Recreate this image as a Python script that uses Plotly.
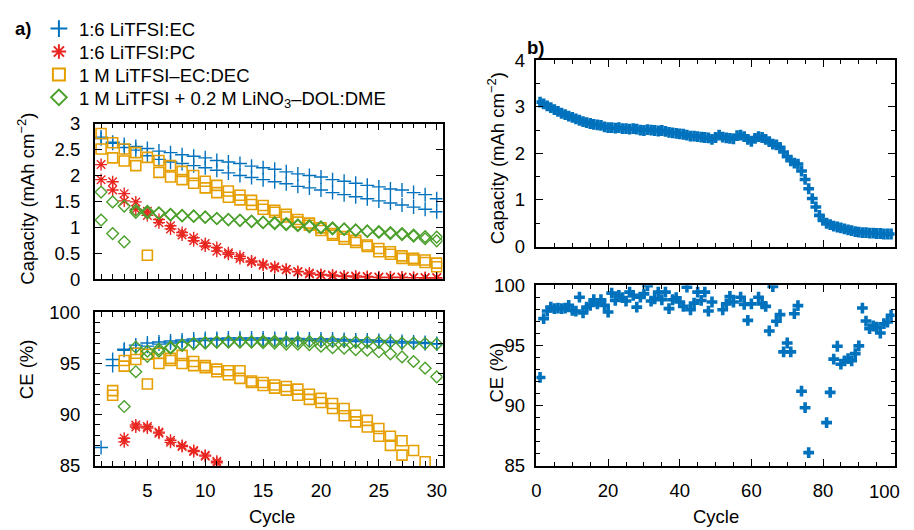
import plotly.graph_objects as go

# Page geometry measured from the rendered page: the figure is drawn with a
# small offset and the page is scaled to the 914x530 picture.
VIEW_W, VIEW_H = 920, 550
OFF_X, OFF_Y = 4, 8
OUT_W, OUT_H = 914, 530
W, H = 904, 534
SX, SY = OUT_W / VIEW_W, OUT_H / VIEW_H

# ---------------- data: panel a ----------------
cycles_a = list(range(1, 31))
series_names = ["1:6 LiTFSI:EC", "1:6 LiTFSI:PC", "1 M LiTFSI\u2013EC:DEC",
                "1 M LiTFSI + 0.2 M LiNO<sub>3</sub>\u2013DOL:DME"]

ec_cap_1 = [2.74, 2.64, 2.60, 2.56, 2.52, 2.47, 2.44, 2.40, 2.37, 2.34, 2.29, 2.26, 2.23, 2.18, 2.15,
            2.12, 2.07, 2.03, 2.00, 1.97, 1.92, 1.89, 1.85, 1.81, 1.78, 1.74, 1.72, 1.67, 1.63, 1.55]
ec_cap_2 = [2.71, 2.62, 2.54, 2.49, 2.38, 2.31, 2.26, 2.23, 2.19, 2.15, 2.10, 2.05, 2.00, 1.96, 1.92,
            1.88, 1.84, 1.79, 1.76, 1.72, 1.67, 1.63, 1.59, 1.55, 1.51, 1.47, 1.43, 1.39, 1.35, 1.30]
pc_cap_1 = [2.21, 1.88, 1.65, 1.49, 1.31, 1.15, 1.03, 0.90, 0.80, 0.69, 0.61, 0.51, 0.44, 0.35, 0.29,
            0.24, 0.19, 0.15, 0.12, 0.09, 0.08, 0.06, 0.06, 0.05, 0.04, 0.04, 0.04, 0.03, 0.03, 0.03]
pc_cap_2 = [1.92, 1.72, 1.51, 1.35, 1.23, 1.09, 0.97, 0.85, 0.74, 0.64, 0.54, 0.48, 0.40, 0.33, 0.27,
            0.22, 0.18, 0.14, 0.10, 0.08, 0.06, 0.05, 0.04, 0.04, 0.03, 0.03, 0.03, 0.03, 0.02, 0.02]
dec_cap_1 = [2.81, 2.63, 2.51, 2.44, 2.35, 2.29, 2.19, 2.08, 2.00, 1.89, 1.81, 1.70, 1.62, 1.52, 1.42,
             1.33, 1.25, 1.15, 1.08, 0.99, 0.88, 0.82, 0.75, 0.66, 0.59, 0.53, 0.45, 0.40, 0.37, 0.31]
dec_cap_2 = [2.51, 2.34, 2.28, 2.19, 0.46, 2.06, 1.97, 1.92, 1.85, 1.76, 1.67, 1.58, 1.53, 1.44, 1.35,
             1.29, 1.20, 1.10, 1.04, 0.94, 0.85, 0.77, 0.71, 0.63, 0.53, 0.48, 0.40, 0.37, 0.32, 0.24]
dol_cap_1 = [1.68, 1.49, 1.41, 1.33, 1.31, 1.28, 1.25, 1.23, 1.22, 1.20, 1.17, 1.15, 1.14, 1.12, 1.10,
             1.09, 1.07, 1.05, 1.03, 1.01, 0.99, 0.97, 0.95, 0.93, 0.92, 0.90, 0.88, 0.85, 0.82, 0.81]
dol_cap_2 = [1.14, 0.88, 0.72, 1.29, 1.28, 1.27, 1.24, 1.22, 1.21, 1.19, 1.17, 1.15, 1.13, 1.11, 1.09,
             1.07, 1.05, 1.03, 1.01, 0.99, 0.97, 0.96, 0.94, 0.92, 0.90, 0.88, 0.86, 0.83, 0.78, 0.74]

ec_ce_1 = [86.8, 95.4, 96.4, 96.8, 97.0, 97.1, 97.2, 97.3, 97.4, 97.45, 97.45, 97.5, 97.5, 97.5, 97.5,
           97.45, 97.45, 97.45, 97.4, 97.4, 97.4, 97.35, 97.3, 97.3, 97.25, 97.2, 97.15, 97.1, 97.05, 96.95]
ec_ce_2 = [None, 94.8, 96.3, 96.5, 96.7, 96.9, 97.0, 97.1, 97.2, 97.25, 97.3, 97.3, 97.3, 97.3, 97.3,
           97.3, 97.3, 97.25, 97.25, 97.2, 97.2, 97.2, 97.15, 97.1, 97.1, 97.05, 97.0, 97.0, 96.95, 96.9]
pc_ce_1 = [None, None, 87.7, 89.0, 88.85, 88.3, 87.5, 87.0, 86.5, 86.05, 85.45, None, None, None, None,
           None, None, None, None, None, None, None, None, None, None, None, None, None, None, None]
pc_ce_2 = [None, None, 87.35, 88.8, 88.7, 88.2, 87.3, 86.9, 86.4, 85.95, 85.3, None, None, None, None,
           None, None, None, None, None, None, None, None, None, None, None, None, None, None, None]
dec_ce_1 = [None, 92.35, 95.3, 96.0, 95.9, 96.0, 95.5, 95.8, 95.2, 94.8, 94.45, 94.3, 94.3, 93.3, 93.15,
            92.9, 92.75, 92.5, 92.0, 91.6, 91.1, 90.6, 89.95, 89.45, 88.65, 87.9, 87.45, 86.5, 85.4, None]
dec_ce_2 = [None, 91.9, 94.75, 95.4, 93.0, 95.0, 95.3, 95.0, 94.8, 94.6, 94.2, 93.9, 93.55, 93.15, 92.85,
            92.6, 92.4, 91.9, 91.5, 91.2, 90.6, 89.9, 89.3, 88.8, 87.9, 87.0, 86.05, None, None, None]
dol_ce_1 = [None, None, None, 96.6, 96.2, 96.4, 96.6, 96.8, 96.95, 97.05, 97.1, 97.15, 97.15, 97.15, 97.2,
            97.2, 97.15, 97.15, 97.15, 97.15, 97.15, 97.15, 97.1, 97.1, 97.1, 97.1, 97.0, 97.0, 96.95, 96.9]
dol_ce_2 = [None, None, 90.8, 94.2, 95.7, 96.2, 96.5, 96.8, 96.95, 97.0, 97.1, 97.1, 97.1, 97.1, 97.05,
            97.0, 96.9, 96.9, 96.85, 96.7, 96.55, 96.5, 96.35, 96.3, 96.15, 95.95, 95.65, 95.2, 94.55, 93.7]

# ---------------- data: panel b ----------------
cycles_b = list(range(1, 100))
cap_b = [3.10, 3.06, 3.02, 2.98, 2.94, 2.90, 2.86, 2.83, 2.80, 2.77,
         2.74, 2.71, 2.68, 2.66, 2.64, 2.62, 2.61, 2.60, 2.57, 2.55,
         2.55, 2.54, 2.55, 2.53, 2.53, 2.52, 2.53, 2.52, 2.50, 2.49,
         2.51, 2.50, 2.49, 2.48, 2.49, 2.47, 2.45, 2.44, 2.43, 2.42,
         2.41, 2.39, 2.37, 2.37, 2.36, 2.35, 2.34, 2.33, 2.30, 2.34,
         2.39, 2.35, 2.33, 2.32, 2.31, 2.38, 2.39, 2.36, 2.30, 2.26,
         2.32, 2.36, 2.34, 2.30, 2.25, 2.20, 2.18, 2.13, 2.03, 1.93,
         1.84, 1.79, 1.77, 1.62, 1.44, 1.24, 1.03, 0.85, 0.67, 0.56,
         0.50, 0.47, 0.44, 0.42, 0.40, 0.38, 0.36, 0.34, 0.32, 0.31,
         0.30, 0.30, 0.29, 0.29, 0.28, 0.28, 0.27, 0.27, 0.27]
ce_b = [92.34, 97.22, 97.85, 98.18, 98.05, 98.10, 98.05, 98.10, 98.32, 97.90,
        97.85, 99.00, 97.70, 98.18, 98.32, 98.79, 98.45, 98.79, 98.32, 97.77,
        99.34, 98.73, 99.15, 98.96, 98.68, 99.42, 99.15, 98.18, 99.00, 99.28,
        99.95, 98.68, 98.87, 99.42, 98.79, 99.42, 98.05, 98.79, 98.96, 98.60,
        98.24, 99.83, 97.96, 98.51, 99.42, 98.73, 99.42, 97.85, 98.60, None,
        None, 97.96, 98.45, 99.06, 98.60, None, 99.00, 98.40, 97.08, 98.45,
        None, 99.00, 98.45, 98.24, 96.20, 99.89, 97.00, 97.55, 94.46, 95.20,
        94.46, 97.63, 98.30, 91.20, 89.83, 86.10, None, None, None, None,
        88.59, 91.10, 93.86, 94.93, 93.44, 93.72, 93.90, 93.72, 94.32, 94.96,
        98.10, 97.02, 96.39, 96.61, 96.52, 96.03, 96.80, 96.94, 97.50]
b_xticks = [0, 20, 40, 60, 80, 100]

# ---------------- styling ----------------
FONT = "Liberation Sans, Arial, sans-serif"
FS = 18.5
BLUE, RED, ORANGE, GREEN = "#0072BD", "#E8251F", "#E69F00", "#4CA02C"

styles = [
    dict(symbol="cross-thin-open", size=10, color=BLUE, line=dict(color=BLUE, width=1.4)),
    dict(symbol="asterisk-open", size=10, color=RED, line=dict(color=RED, width=1.4)),
    dict(symbol="square-open", size=10, color=ORANGE, line=dict(color=ORANGE, width=1.6)),
    dict(symbol="diamond-open", size=9, color=GREEN, line=dict(color=GREEN, width=1.4)),
]
cap_sets = [(ec_cap_1, ec_cap_2), (pc_cap_1, pc_cap_2), (dec_cap_1, dec_cap_2), (dol_cap_1, dol_cap_2)]
ce_sets = [(ec_ce_1, ec_ce_2), (pc_ce_1, pc_ce_2), (dec_ce_1, dec_ce_2), (dol_ce_1, dol_ce_2)]
legend_ids = ["legend", "legend2", "legend3", "legend4"]

fig = go.Figure()
for i, name in enumerate(series_names):
    for j in range(2):
        fig.add_trace(go.Scatter(x=cycles_a, y=cap_sets[i][j], mode="markers", marker=styles[i],
                                 name=name, legendgroup=name, legend=legend_ids[i],
                                 showlegend=(j == 0), xaxis="x", yaxis="y"))
        fig.add_trace(go.Scatter(x=cycles_a, y=ce_sets[i][j], mode="markers", marker=styles[i],
                                 name=name, legendgroup=name, showlegend=False,
                                 xaxis="x2", yaxis="y2"))

bstyle = dict(symbol="cross", size=9, color=BLUE, line=dict(width=0))
fig.add_trace(go.Scatter(x=cycles_b, y=cap_b, mode="markers", marker=bstyle, showlegend=False,
                         xaxis="x3", yaxis="y3"))
fig.add_trace(go.Scatter(x=cycles_b, y=ce_b, mode="markers", marker=bstyle, showlegend=False,
                         xaxis="x4", yaxis="y4"))


def fx(p):  # target pixel -> figure pixel (x)
    return p / SX - OFF_X


def fy(p):
    return p / SY - OFF_Y


def px_x(p):
    return fx(p) / W


def px_y(p):
    return 1 - fy(p) / H


def ax(**kw):
    base = dict(showline=True, linecolor="black", linewidth=1.6, mirror="allticks",
                ticks="inside", ticklen=7, tickwidth=1.4, tickcolor="black",
                showgrid=False, zeroline=False,
                tickfont=dict(family=FONT, size=FS, color="black"))
    base.update(kw)
    return base


def minor(d, ln=4):
    return dict(dtick=d, ticks="inside", ticklen=ln, tickwidth=1.2, tickcolor="black", showgrid=False)


ax_a_x = dict(range=[0.45, 30.5], tick0=0, dtick=5, domain=[px_x(94), px_x(443)])
ax_b_x = dict(range=[0, 100], tickvals=b_xticks, domain=[px_x(537.3), px_x(896.7)])

legend_rows = [27, 50, 73, 96]
legends = {}
for k, lid in enumerate(legend_ids):
    top = 1 - (fy(legend_rows[k]) - 21) / H
    legends[lid] = dict(x=px_x(38), y=top, xanchor="left", yanchor="top",
                        bgcolor="rgba(0,0,0,0)", font=dict(family=FONT, size=FS, color="black"),
                        itemsizing="constant")

fig.update_layout(
    width=W, height=H, margin=dict(l=0, r=0, t=0, b=0), autosize=False,
    paper_bgcolor="white", plot_bgcolor="white",
    font=dict(family=FONT, size=FS, color="black"),
    xaxis=ax(**ax_a_x, anchor="y", showticklabels=False, minor=minor(1, 5)),
    yaxis=ax(range=[0, 3], dtick=0.5, domain=[px_y(276.7), px_y(120.7)], anchor="x",
             ticklabelstandoff=9),
    xaxis2=ax(**ax_a_x, anchor="y2", ticklabelstandoff=7, minor=minor(1, 5)),
    yaxis2=ax(range=[85, 100], dtick=5, domain=[px_y(464), px_y(310)], anchor="x2",
              ticklabelstandoff=9, minor=minor(1, 5)),
    xaxis3=ax(**ax_b_x, anchor="y3", showticklabels=False, minor=minor(5)),
    yaxis3=ax(range=[0, 4], dtick=1, domain=[px_y(244), px_y(57)], anchor="x3",
              ticklabelstandoff=6, minor=minor(0.5)),
    xaxis4=ax(**ax_b_x, ticktext=[str(v) for v in b_xticks[:-1]] + [""], anchor="y4",
              ticklabelstandoff=7, minor=minor(5)),
    yaxis4=ax(range=[85, 100], dtick=5, domain=[px_y(464), px_y(282.7)], anchor="x4",
              ticklabelstandoff=6, minor=minor(1)),
    **legends,
)

annots = [
    dict(text="<b>a)</b>", x=px_x(22), y=px_y(25)),
    dict(text="<b>b)</b>", x=px_x(536), y=px_y(44)),
    dict(text="Capacity (mAh cm<sup>\u22122</sup>)", x=px_x(25), y=px_y(196), textangle=-90),
    dict(text="CE (%)", x=px_x(25), y=px_y(367), textangle=-90),
    dict(text="Capacity (mAh cm<sup>\u22122</sup>)", x=px_x(497), y=px_y(155), textangle=-90),
    dict(text="CE (%)", x=px_x(497), y=px_y(370), textangle=-90),
    dict(text="Cycle", x=px_x(272), y=px_y(515)),
    dict(text="Cycle", x=px_x(717), y=px_y(515)),
]
for a in annots:
    a.update(xref="paper", yref="paper", showarrow=False, xanchor="center", yanchor="middle",
             font=dict(family=FONT, size=FS, color="black"))
    fig.add_annotation(**a)

# last panel-b tick label, nudged left so it stays inside the page
fig.add_annotation(text=str(b_xticks[-1]), xref="x4", x=b_xticks[-1], yref="paper", y=px_y(490),
                   xanchor="center", yanchor="middle", xshift=-10, showarrow=False,
                   font=dict(family=FONT, size=FS, color="black"))

fig.write_html("out.html")
